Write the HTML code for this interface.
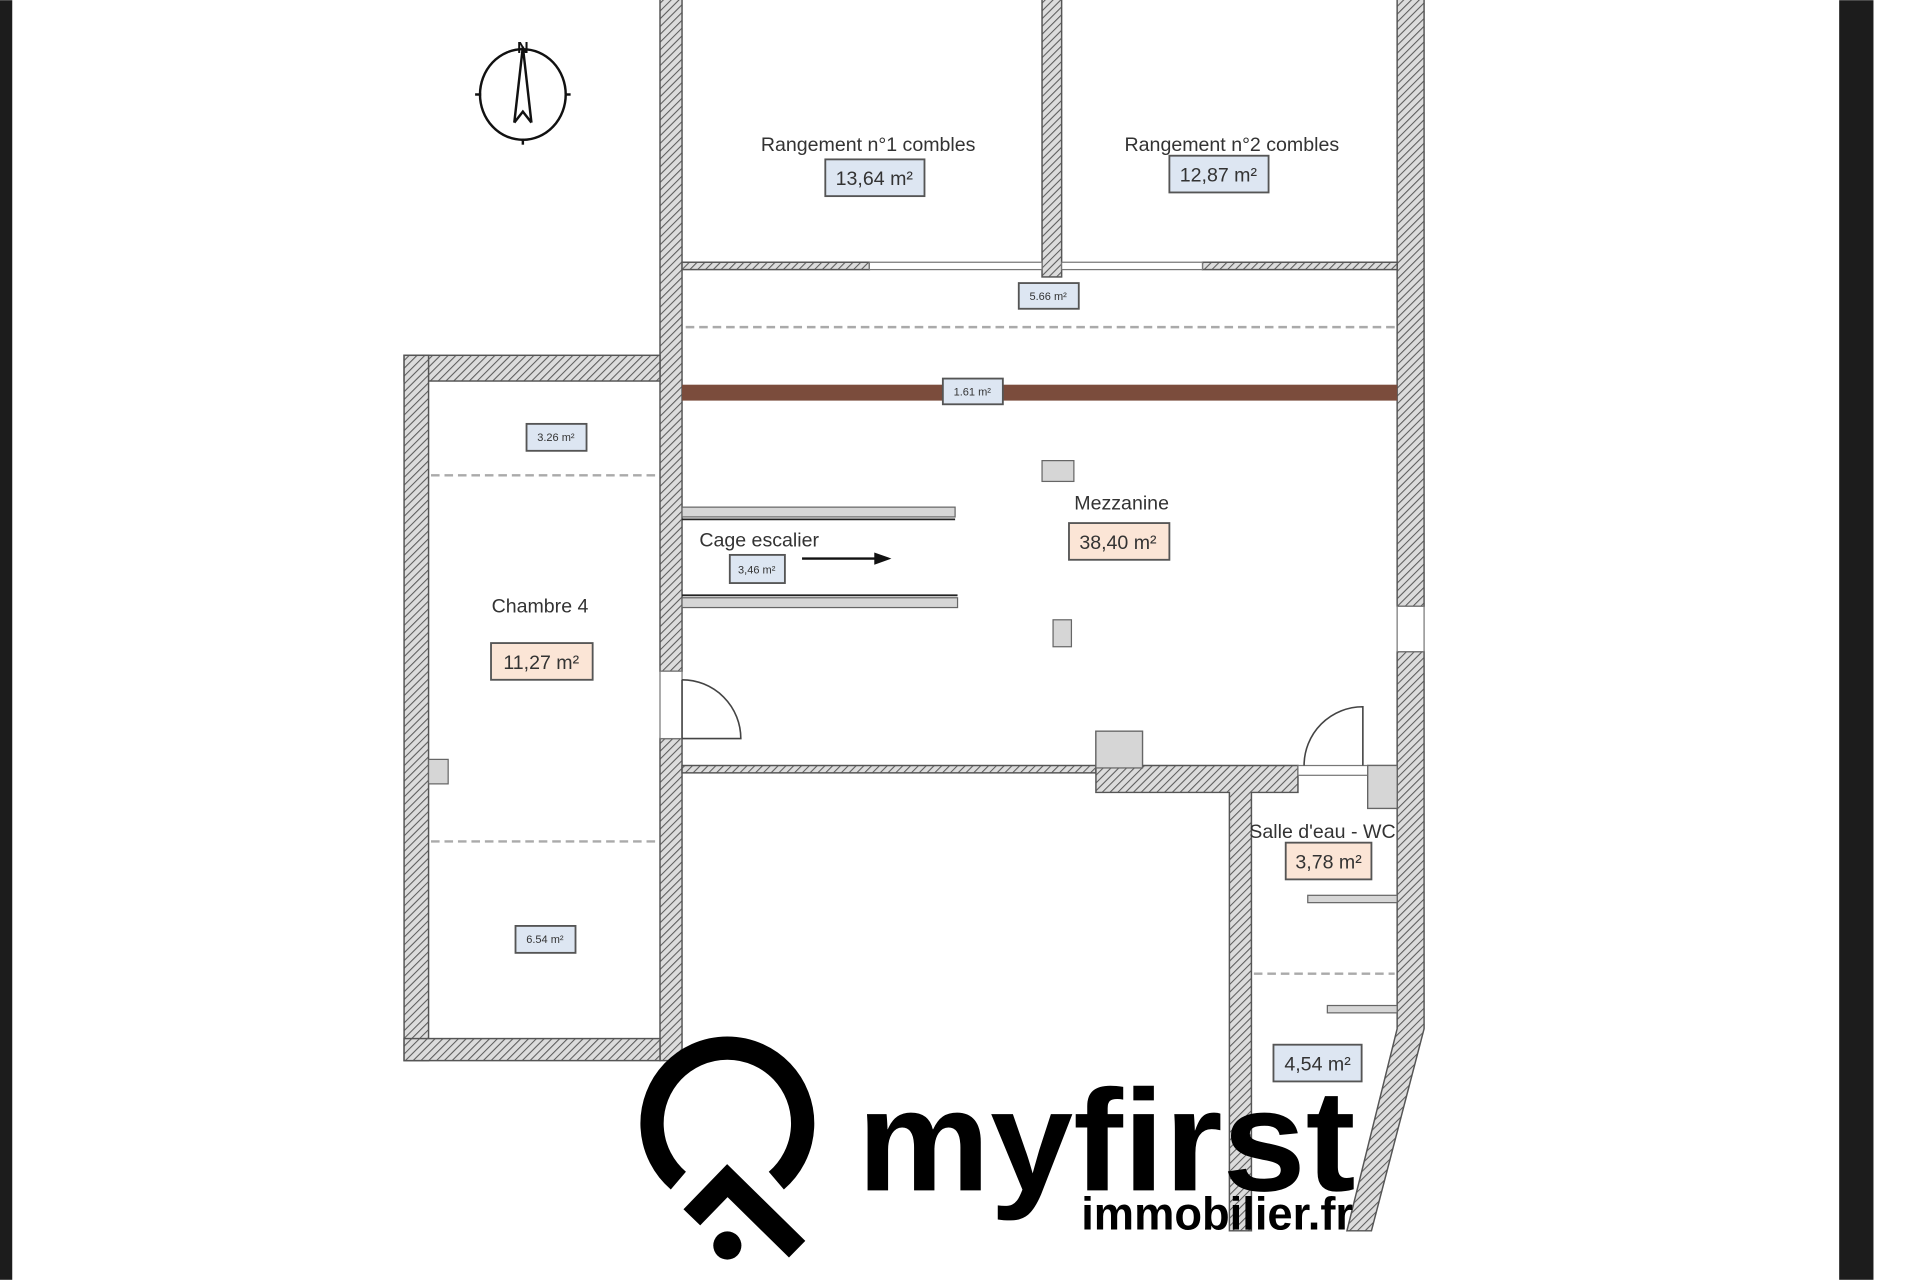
<!DOCTYPE html>
<html><head><meta charset="utf-8"><style>
html,body{margin:0;padding:0;background:#fff;width:1920px;height:1280px;overflow:hidden}
svg{display:block}
text{font-family:"Liberation Sans",sans-serif}
</style></head><body>
<svg width="1920" height="1280" viewBox="0 0 1568 1045" xmlns="http://www.w3.org/2000/svg">
<defs>
<pattern id="h" width="4.5" height="4.5" patternUnits="userSpaceOnUse" patternTransform="rotate(45)">
<rect width="4.5" height="4.5" fill="#dcdcdc"/><line x1="0" y1="0" x2="0" y2="4.5" stroke="#5a5a5a" stroke-width="1.7"/>
</pattern>
</defs>
<rect width="1568" height="1045" fill="#fff"/>
<rect x="0" y="0" width="10" height="1045" fill="#1c1c1c"/>
<rect x="1502" y="0" width="28" height="1045" fill="#1c1c1c"/>

<g fill="url(#h)" stroke="#555" stroke-width="1.2">
<rect x="539" y="-2" width="18" height="550"/>
<rect x="539" y="603" width="18" height="263"/>
<rect x="851" y="-2" width="16" height="228"/>
<rect x="1141" y="-2" width="22" height="497"/>
<path d="M1141 532 H1163 V840 L1120 1005 H1100 L1141 840 Z"/>
<rect x="330" y="290" width="209" height="21"/>
<rect x="330" y="290" width="20" height="576"/>
<rect x="330" y="848" width="209" height="18"/>
<rect x="557" y="214" width="153" height="6"/>
<rect x="982" y="214" width="159" height="6"/>
<rect x="557" y="625" width="338" height="6"/>
<path d="M895 597 H933 V625 H1060 V647 H1022 V1005 H1004 V647 H895 Z"/>
<rect x="1117" y="625" width="24" height="35"/>
</g>
<g fill="#fff" stroke="#777" stroke-width="1">
<rect x="710" y="214" width="141" height="6"/>
<rect x="867" y="214" width="115" height="6"/>
<rect x="1141" y="495" width="22" height="37"/>
<rect x="539" y="548" width="18" height="55"/>
<rect x="1060" y="625" width="57" height="8"/>
</g>
<g fill="#d6d6d6" stroke="#666" stroke-width="1">
<rect x="895" y="597" width="38" height="30"/>
<rect x="1117" y="625" width="24" height="35"/>
<rect x="851" y="376" width="26" height="17"/>
<rect x="860" y="506" width="15" height="22"/>
<rect x="350" y="620" width="16" height="20"/>
<rect x="557" y="414" width="223" height="8"/>
<rect x="557" y="488" width="225" height="8"/>
<rect x="1068" y="731" width="73" height="6"/>
<rect x="1084" y="821" width="57" height="6"/>
</g>
<line x1="557" y1="424" x2="780" y2="424" stroke="#222" stroke-width="1.5"/>
<line x1="557" y1="486" x2="782" y2="486" stroke="#222" stroke-width="1.5"/>
<rect x="557" y="314" width="584" height="13" fill="#7b4c3c"/>
<g stroke="#aaa" stroke-width="2" stroke-dasharray="7 4">
<line x1="560" y1="267" x2="1141" y2="267"/>
<line x1="352" y1="388" x2="537" y2="388"/>
<line x1="352" y1="687" x2="537" y2="687"/>
<line x1="1024" y1="795" x2="1139" y2="795"/>
</g>
<g fill="none" stroke="#444" stroke-width="1.3">
<path d="M557 555 A48 48 0 0 1 605 603 H557"/>
<line x1="557" y1="555" x2="557" y2="603"/>
<path d="M1065 625 A48 48 0 0 1 1113 577 V625"/>
</g>
<line x1="655" y1="456" x2="716" y2="456" stroke="#111" stroke-width="2"/>
<path d="M728 456 L714 451 V461 Z" fill="#111"/>
<g fill="none" stroke="#111" stroke-width="2">
<ellipse cx="427" cy="77" rx="35" ry="37"/>
<path d="M427 38 L420 100 M427 38 L434 100 M420 100 L427 91 L434 100"/>
<line x1="388" y1="77" x2="393" y2="77"/><line x1="461" y1="77" x2="466" y2="77"/>
<line x1="427" y1="113" x2="427" y2="118"/>
</g>
<text x="427" y="43" font-size="13" font-weight="bold" text-anchor="middle" fill="#111">N</text>
<g fill="#333" font-size="16" text-anchor="middle">
<text x="709" y="123">Rangement n°1 combles</text>
<text x="1006" y="123">Rangement n°2 combles</text>
<text x="916" y="416">Mezzanine</text>
<text x="620" y="446">Cage escalier</text>
<text x="441" y="500">Chambre 4</text>
<text x="1080" y="684">Salle d'eau - WC</text>
</g>
<g stroke="#555" stroke-width="1.5">
<rect x="674" y="130" width="81" height="30" fill="#dde6f2"/>
<rect x="955" y="127" width="81" height="30" fill="#dde6f2"/>
<rect x="873" y="427" width="82" height="30" fill="#fbe5d6"/>
<rect x="401" y="525" width="83" height="30" fill="#fbe5d6"/>
<rect x="1050" y="688" width="70" height="30" fill="#fbe5d6"/>
<rect x="1040" y="853" width="72" height="30" fill="#dde6f2"/>
<rect x="832" y="231" width="49" height="21" fill="#dde6f2"/>
<rect x="770" y="309" width="49" height="21" fill="#dde6f2"/>
<rect x="430" y="346" width="49" height="22" fill="#dde6f2"/>
<rect x="596" y="453" width="45" height="23" fill="#dde6f2"/>
<rect x="421" y="756" width="49" height="22" fill="#dde6f2"/>
</g>
<g fill="#333" text-anchor="middle">
<text x="714" y="151" font-size="16">13,64 m²</text>
<text x="995" y="148" font-size="16">12,87 m²</text>
<text x="913" y="448" font-size="16">38,40 m²</text>
<text x="442" y="546" font-size="16">11,27 m²</text>
<text x="1085" y="709" font-size="16">3,78 m²</text>
<text x="1076" y="874" font-size="16">4,54 m²</text>
<text x="856" y="245" font-size="9">5.66 m²</text>
<text x="794" y="323" font-size="9">1.61 m²</text>
<text x="454" y="360" font-size="9">3.26 m²</text>
<text x="618" y="468" font-size="9">3,46 m²</text>
<text x="445" y="770" font-size="9">6.54 m²</text>
</g>
<g fill="none" stroke="#000" stroke-width="19">
<path d="M554 964 A61.5 61.5 0 1 1 634 964"/>
<path d="M565 994 L594 964 L651 1020"/>
</g>
<circle cx="594" cy="1017" r="11.5" fill="#000"/>
<text x="700" y="972" font-size="118" font-weight="bold" fill="#000" textLength="407" lengthAdjust="spacingAndGlyphs">myfirst</text>
<text x="883" y="1004" font-size="38" font-weight="bold" fill="#000" textLength="222" lengthAdjust="spacingAndGlyphs">immobilier.fr</text>
</svg>
</body></html>
